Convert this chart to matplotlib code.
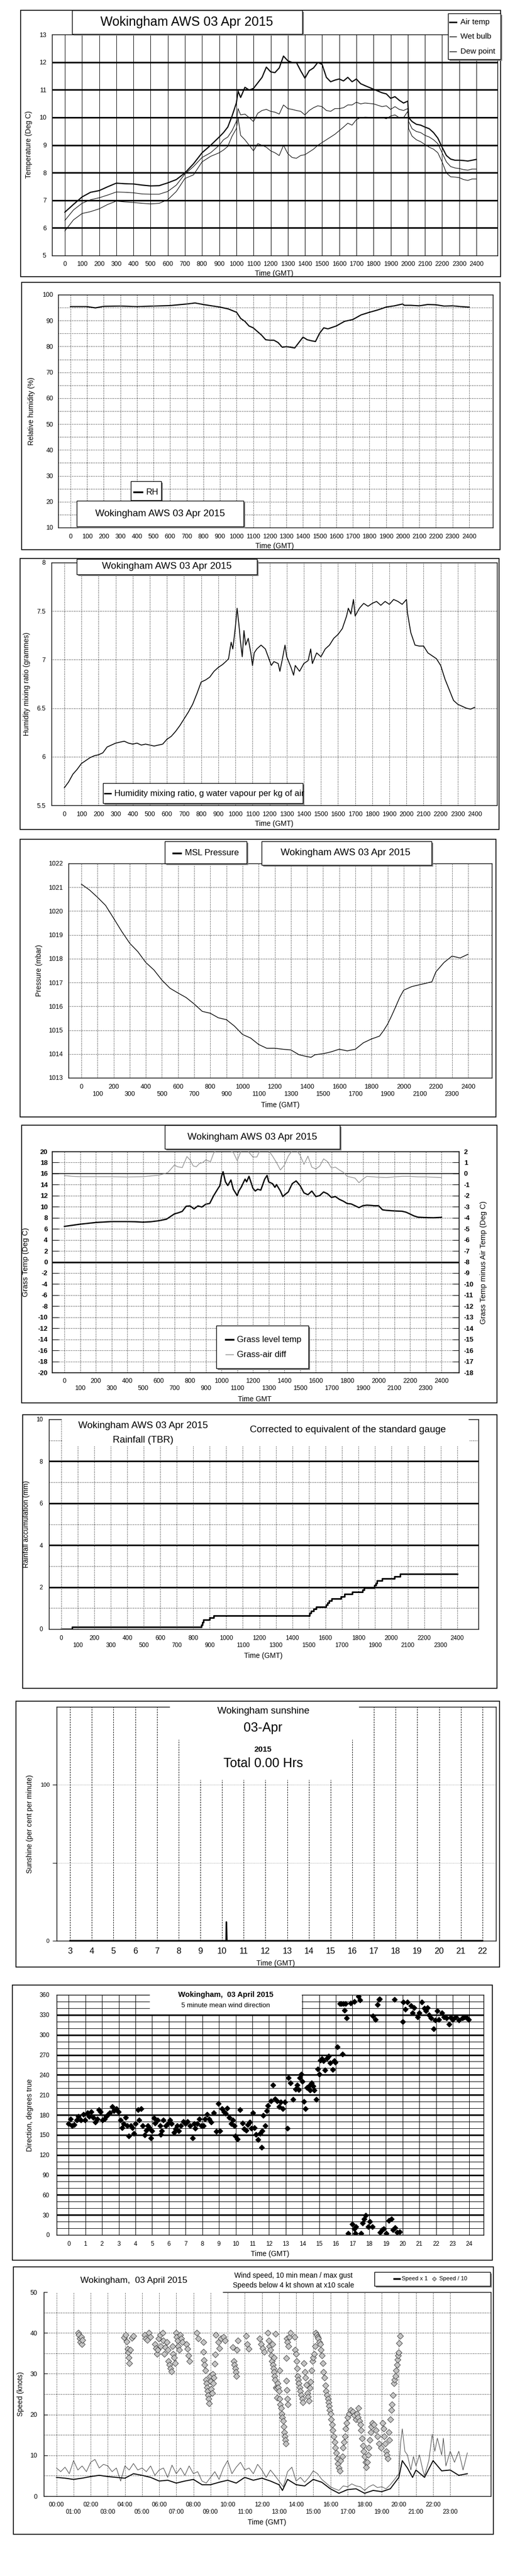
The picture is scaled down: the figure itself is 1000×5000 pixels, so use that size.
import matplotlib
matplotlib.use('Agg')
import matplotlib.pyplot as plt
from matplotlib.patches import Rectangle
from matplotlib.lines import Line2D

plt.rcParams['font.family'] = ['Liberation Sans', 'DejaVu Sans']
plt.rcParams['axes.linewidth'] = 1.0

# ---------------- data ----------------
# temperature panel, time axis in HHMM hundreds
temp_t = [0, 50, 100, 150, 200, 250, 300, 350, 400, 450, 500, 550, 600, 650, 700, 750, 800, 850, 900,
          925, 950, 975, 1000, 1010, 1025, 1050, 1075, 1100, 1125, 1150, 1175, 1200, 1225, 1250, 1275,
          1300, 1325, 1350, 1375, 1400, 1425, 1450, 1475, 1500, 1525, 1550, 1575, 1600, 1625, 1650, 1675,
          1700, 1725, 1750, 1800, 1850, 1875, 1900, 1925, 1950, 1975, 2000, 2005, 2025, 2050, 2075, 2100,
          2125, 2150, 2175, 2200, 2225, 2250, 2275, 2300, 2325, 2350, 2375, 2400]
air_temp = [6.57, 6.85, 7.12, 7.29, 7.35, 7.49, 7.62, 7.60, 7.59, 7.55, 7.52, 7.53, 7.63, 7.75, 7.99, 8.32, 8.72, 8.99, 9.29,
            9.45, 9.65, 10.05, 10.52, 10.95, 10.72, 11.09, 10.99, 11.05, 11.25, 11.45, 11.82, 11.65, 11.62, 11.79, 12.22,
            12.05, 11.99, 11.99, 11.69, 11.42, 11.69, 11.79, 11.99, 11.92, 11.45, 11.29, 11.35, 11.39, 11.32, 11.45, 11.29,
            11.39, 11.22, 11.15, 11.02, 10.89, 10.85, 10.69, 10.75, 10.62, 10.52, 10.59, 9.99, 9.85, 9.75, 9.72, 9.65,
            9.59, 9.45, 9.25, 8.92, 8.62, 8.49, 8.45, 8.45, 8.44, 8.42, 8.45, 8.48]
wet_bulb = [6.27, 6.65, 6.89, 7.02, 7.09, 7.19, 7.30, 7.29, 7.27, 7.23, 7.22, 7.22, 7.32, 7.55, 7.95, 8.22, 8.55, 8.72, 8.99,
            9.19, 9.29, 9.52, 9.85, 10.32, 10.09, 10.12, 9.99, 9.85, 10.15, 10.25, 10.29, 10.22, 10.19, 10.12, 10.45,
            10.32, 10.29, 10.25, 10.22, 10.09, 10.25, 10.35, 10.42, 10.39, 10.25, 10.22, 10.32, 10.32, 10.35, 10.45, 10.45,
            10.55, 10.49, 10.52, 10.49, 10.39, 10.42, 10.29, 10.39, 10.29, 10.25, 10.32, 9.85, 9.59, 9.49, 9.45, 9.35,
            9.29, 9.19, 9.05, 8.72, 8.39, 8.22, 8.17, 8.15, 8.11, 8.09, 8.13, 8.13]
dew_point = [5.89, 6.29, 6.52, 6.59, 6.69, 6.85, 6.97, 6.94, 6.92, 6.89, 6.87, 6.89, 7.02, 7.32, 7.79, 7.92, 8.39, 8.59, 8.72,
             8.82, 8.95, 9.32, 9.59, 9.99, 9.35, 9.19, 8.99, 8.79, 9.05, 8.99, 8.92, 8.79, 8.72, 8.62, 8.99,
             8.69, 8.55, 8.52, 8.62, 8.65, 8.75, 8.85, 8.99, 9.09, 9.19, 9.29, 9.39, 9.52, 9.65, 9.79, 9.72,
             9.92, 9.99, 10.01, 10.00, 9.99, 9.95, 10.05, 10.09, 9.99, 9.99, 10.22, 9.59, 9.32, 9.19, 9.12, 9.02,
             8.92, 8.85, 8.72, 8.39, 7.99, 7.85, 7.84, 7.82, 7.75, 7.72, 7.77, 7.77]

rh_t = [0, 100, 150, 200, 300, 400, 500, 600, 700, 750, 800, 850, 900, 950, 1000, 1025, 1050, 1075, 1100,
        1125, 1150, 1175, 1200, 1225, 1250, 1275, 1300, 1325, 1350, 1375, 1400, 1425, 1450, 1475, 1500,
        1525, 1550, 1600, 1650, 1700, 1750, 1800, 1850, 1900, 1950, 2000, 2010, 2050, 2100, 2150, 2200,
        2250, 2300, 2350, 2400]
rh = [95.4, 95.4, 94.9, 95.5, 95.6, 95.4, 95.6, 95.8, 96.4, 96.8, 96.2, 95.7, 95.2, 94.5, 93.2, 90.8, 89.7, 87.9, 87.2,
      85.8, 84.4, 82.6, 82.4, 82.4, 81.5, 79.7, 79.9, 79.7, 79.4, 81.5, 83.6, 82.6, 82.2, 81.9, 85.1,
      87.2, 86.8, 87.9, 89.7, 90.4, 92.2, 93.2, 94.1, 95.2, 95.7, 96.4, 95.9, 95.9, 95.7, 96.2, 96.1,
      95.6, 95.7, 95.4, 95.2]

mix_t = [0, 25, 50, 75, 100, 125, 150, 175, 200, 225, 250, 275, 300, 325, 350, 375, 400, 425, 450, 475,
         500, 525, 550, 575, 600, 625, 650, 675, 700, 725, 750, 775, 800, 825, 850, 875, 900, 925, 950,
         960, 975, 985, 1000, 1010, 1020, 1030, 1040, 1050, 1060, 1075, 1090, 1100, 1110, 1125, 1150, 1175,
         1200, 1210, 1225, 1250, 1260, 1275, 1290, 1300, 1325, 1340, 1350, 1375, 1400, 1425, 1440, 1450,
         1475, 1500, 1525, 1550, 1575, 1600, 1625, 1650, 1660, 1675, 1690, 1700, 1725, 1750, 1775, 1800,
         1825, 1850, 1875, 1900, 1925, 1950, 1975, 2000, 2005, 2025, 2050, 2075, 2100, 2125, 2150, 2175,
         2200, 2225, 2250, 2275, 2300, 2325, 2350, 2375, 2400]
mix_ratio = [5.68, 5.74, 5.82, 5.87, 5.93, 5.96, 5.99, 6.01, 6.02, 6.04, 6.10, 6.12, 6.14, 6.15, 6.16, 6.14, 6.13, 6.14, 6.12, 6.13,
             6.12, 6.11, 6.12, 6.13, 6.18, 6.21, 6.26, 6.32, 6.39, 6.46, 6.54, 6.65, 6.77, 6.79, 6.82, 6.88, 6.92, 6.95, 6.99,
             7.01, 7.18, 7.11, 7.34, 7.53, 7.37, 7.18, 7.03, 7.30, 7.15, 7.22, 7.07, 6.94, 7.07, 7.11, 7.15, 7.11,
             6.99, 6.94, 6.98, 6.96, 6.88, 7.01, 7.15, 7.03, 6.92, 6.84, 6.94, 6.88, 6.96, 6.99, 7.11, 6.96,
             7.07, 7.03, 7.11, 7.15, 7.22, 7.26, 7.32, 7.45, 7.53, 7.47, 7.62, 7.45, 7.53, 7.58, 7.55, 7.58,
             7.60, 7.56, 7.60, 7.57, 7.62, 7.60, 7.57, 7.62, 7.49, 7.28, 7.15, 7.14, 7.14, 7.07, 7.04, 7.01,
             6.94, 6.80, 6.69, 6.58, 6.54, 6.52, 6.50, 6.49, 6.51]

pres_t = [0, 50, 100, 150, 200, 250, 300, 350, 400, 450, 500, 550, 600, 650, 700, 750, 800, 850, 900, 950,
          1000, 1050, 1100, 1150, 1200, 1250, 1300, 1350, 1400, 1425, 1450, 1500, 1550, 1600, 1650, 1700,
          1750, 1800, 1850, 1875, 1900, 1925, 1950, 1975, 2000, 2050, 2100, 2150, 2175, 2200, 2250, 2300,
          2350, 2375, 2400]
pressure = [1021.13, 1020.89, 1020.58, 1020.24, 1019.70, 1019.15, 1018.65, 1018.30, 1017.84, 1017.53, 1017.10,
            1016.76, 1016.56, 1016.37, 1016.10, 1015.79, 1015.71, 1015.52, 1015.44, 1015.17, 1014.82, 1014.67,
            1014.40, 1014.24, 1014.24, 1014.20, 1014.17, 1013.97, 1013.89, 1013.86, 1013.97, 1014.01, 1014.09,
            1014.20, 1014.13, 1014.20, 1014.47, 1014.63, 1014.75, 1014.98, 1015.25, 1015.60, 1015.98, 1016.37,
            1016.68, 1016.83, 1016.91, 1016.99, 1017.03, 1017.45, 1017.84, 1018.11, 1018.03, 1018.11, 1018.19]

grass_t = [0, 100, 200, 300, 400, 450, 500, 550, 600, 650, 700, 725, 750, 775, 800, 825, 850, 875, 900, 925,
           950, 975, 990, 1000, 1010, 1025, 1040, 1060, 1075, 1100, 1110, 1125, 1150, 1160, 1175, 1200, 1215,
           1230, 1250, 1275, 1290, 1300, 1325, 1340, 1350, 1375, 1390, 1410, 1425, 1450, 1475, 1500, 1525,
           1550, 1575, 1600, 1625, 1650, 1675, 1700, 1725, 1750, 1775, 1800, 1825, 1850, 1875, 1900, 1925,
           1950, 1975, 2000, 2025, 2050, 2100, 2150, 2175, 2200, 2225, 2250, 2300, 2350, 2400]
grass_temp = [6.44, 6.84, 7.15, 7.31, 7.31, 7.28, 7.21, 7.28, 7.46, 7.75, 8.70, 8.90, 9.16, 10.09, 10.15, 9.60, 10.15, 9.94, 10.46, 10.60,
              12.00, 13.17, 13.84, 15.5, 16.34, 14.5, 13.84, 14.84, 13.17, 12.01, 12.84, 13.51, 15.0, 14.5, 15.5, 13.34, 12.84,
              13.17, 13.0, 15.0, 15.67, 14.5, 14.17, 13.51, 14.0, 12.84, 11.84, 12.34, 12.67, 14.17, 14.67, 13.84, 12.51,
              12.17, 12.84, 11.84, 12.01, 12.67, 12.34, 11.68, 11.84, 11.34, 11.01, 10.58, 10.51, 10.18, 9.84, 10.18, 10.28,
              10.24, 10.18, 10.18, 9.44, 9.34, 9.24, 9.18, 9.01, 8.68, 8.34, 8.11, 8.04, 8.01, 8.08]
diff_t = [0, 50, 100, 200, 300, 400, 500, 600, 640, 660, 700, 720, 750, 780, 800, 820, 840, 860, 880, 900,
          930, 950, 975, 1000, 1025, 1050, 1075, 1100, 1125, 1150, 1175, 1200, 1225, 1250, 1275, 1300, 1325,
          1350, 1375, 1400, 1425, 1450, 1475, 1500, 1525, 1550, 1575, 1600, 1625, 1650, 1675, 1700, 1725,
          1750, 1775, 1800, 1825, 1850, 1875, 1900, 1925, 1950, 2000, 2050, 2100, 2150, 2200, 2250, 2300,
          2350, 2400]
grass_air_diff = [-0.18, -0.25, -0.28, -0.28, -0.28, -0.31, -0.28, -0.15, 0.0, 0.12, 0.77, 0.62, 0.54, 1.54, 1.23, 0.69, 0.62, 0.92, 1.0, 1.23,
                  1.08, 1.85, 2.25, 2.75, 2.58, 2.08, 1.92, 1.17, 2.08, 2.58, 1.92, 1.5, 1.5, 2.25, 2.58, 2.08, 1.58,
                  1.0, 0.33, 0.75, 1.58, 2.08, 2.17, 1.67, 0.83, 1.58, 0.58, 0.42, 0.67, 1.33, 1.08, 0.5, 0.58,
                  0.33, 0.12, -0.25, -0.33, -0.41, -0.83, -0.5, -0.25, -0.28, -0.33, -0.36, -0.3, -0.25, -0.25, -0.3, -0.3,
                  -0.33, -0.36]

rain_t = [0, 64, 848, 854, 862, 898, 924, 1504, 1515, 1528, 1545, 1604, 1614, 1624, 1640, 1696, 1716, 1764,
          1826, 1836, 1898, 1906, 1914, 1944, 2018, 2054, 2400]
rain_mm = [0.0, 0.1, 0.2, 0.32, 0.43, 0.53, 0.65, 0.75, 0.85, 0.95, 1.06, 1.16, 1.26, 1.36, 1.46, 1.56, 1.66, 1.76,
           1.86, 1.97, 2.08, 2.19, 2.3, 2.41, 2.5, 2.63, 2.63]

sun_t = [3.0, 10.19, 10.2, 10.21, 10.22, 22.0]
sun_pct = [0, 0, 12, 6, 0, 0]

# 5 minute mean wind direction (hours, degrees)
wd_hour = [0.00, 0.10, 0.20, 0.34, 0.47, 0.59, 0.73, 0.87, 0.99, 1.13, 1.23, 1.34, 1.46, 1.60, 1.72, 1.82, 1.90, 2.02, 2.14, 2.25, 2.37, 2.47, 2.61, 2.71, 2.85, 2.97,
           3.10, 3.20, 3.30, 3.40, 3.50, 3.60, 3.72, 3.80, 3.91, 3.99, 4.15, 4.23, 4.35, 4.43, 4.55, 4.65, 4.73, 4.82, 4.92, 4.98,
           5.10, 5.18, 5.34, 5.48, 5.52, 5.58, 5.67, 5.81, 5.93, 6.07, 6.17, 6.31, 6.41, 6.50, 6.58, 6.72, 6.86, 7.00, 7.12, 7.26,
           7.41, 7.51, 7.59, 7.69, 7.81, 7.95, 8.07, 8.15, 8.30, 8.42, 8.54, 8.70, 8.84, 8.98, 9.05, 9.17, 9.29, 9.41, 9.49, 9.61,
           9.73, 9.83, 9.92, 9.98, 10.12, 10.26, 10.42, 10.52, 10.62, 10.72, 10.85, 10.95, 11.03, 11.11, 11.23, 11.35, 11.45, 11.55, 11.59, 11.66, 11.78,
           11.86, 11.94, 12.10, 12.22, 12.36, 12.49, 12.61, 12.69, 12.81, 12.93, 13.09, 13.15,
           13.29, 13.44, 13.58, 13.68, 13.78, 13.84, 13.92, 14.00, 14.08, 14.18, 14.27, 14.39, 14.47, 14.55, 14.63, 14.71, 14.83, 14.91, 15.01,
           15.07, 15.16, 15.26, 15.36, 15.46, 15.56, 15.66, 15.82, 15.90, 15.97, 16.09, 16.41,
           16.25, 16.35, 16.45, 16.51, 16.59, 16.65, 16.88, 17.10, 17.34, 17.44, 18.23, 18.37, 18.49, 18.58, 18.62, 19.51, 20.01, 20.05, 20.17, 20.30,
           20.50, 20.60, 20.70, 20.90, 21.00, 21.15, 21.29, 21.39, 21.49, 21.59, 21.69, 21.85, 21.95, 22.08, 22.18, 22.34, 22.48, 22.62, 22.78, 22.87,
           23.01, 23.17, 23.37, 23.57, 23.72, 23.86, 23.96,
           16.75, 17.00, 17.10, 17.18, 17.20, 17.50, 17.60, 17.70, 17.80, 17.93, 18.03, 18.19, 18.66, 18.78, 18.88, 19.02, 19.18, 19.32, 19.41, 19.55, 19.67, 19.81]
wd_deg = [167, 174, 164, 165, 172, 178, 172, 181, 172, 183, 178, 185, 176, 169, 174, 188, 185, 172, 174, 178, 181, 183, 192, 186, 189, 185,
          172, 161, 167, 176, 164, 148, 164, 161, 152, 167, 188, 172, 189, 164, 150, 157, 164, 161, 145, 156,
          175, 168, 172, 164, 151, 156, 172, 164, 167, 172, 167, 154, 159, 164, 156, 164, 170, 167, 170, 164,
          145, 167, 160, 167, 174, 164, 164, 174, 181, 174, 169, 183, 155, 197, 156, 189, 185, 182, 190, 176,
          167, 172, 164, 148, 144, 188, 168, 159, 157, 165, 169, 160, 183, 161, 151, 143, 152, 131, 156, 179, 164,
          186, 194, 201, 225, 204, 201, 192, 199, 189, 199, 160, 236,
          228, 203, 219, 225, 218, 236, 241, 230, 200, 189, 221, 223, 217, 228, 223, 217, 203, 249, 241,
          262, 264, 261, 247, 265, 268, 258, 248, 261, 259, 282, 271,
          347, 347, 347, 337, 347, 325, 348, 350, 358, 352, 328, 323, 345, 353, 354, 353, 320, 349, 338, 349,
          344, 333, 341, 327, 333, 349, 340, 336, 341, 330, 325, 309, 322, 336, 323, 333, 327, 325, 316, 326,
          323, 327, 322, 325, 327, 325, 323,
          2, 16, 9, 2, 12, 2, 18, 24, 29, 12, 20, 12, 4, 8, 9, 2, 22, 24, 8, 11, 4, 5]

# wind speed (knots), hours
mean_t = [0, 0.5, 1.0, 1.5, 2.0, 2.5, 3.0, 3.5, 4.0, 4.5, 5.0, 5.5, 6.0, 6.5, 7.0, 7.5, 8.0, 8.5, 9.0, 9.5,
          10.0, 10.5, 11.0, 11.5, 12.0, 12.5, 13.0, 13.2, 13.5, 14.0, 14.5, 15.0, 15.5, 16.0, 16.5, 17.0, 17.5,
          18.0, 18.5, 19.0, 19.5, 20.0, 20.2, 20.5, 20.8, 21.0, 21.5, 22.0, 22.5, 23.0, 23.5, 24.0]
mean_speed = [4.6, 4.4, 4.1, 4.4, 4.8, 5.1, 4.8, 4.6, 4.4, 5.5, 5.1, 4.6, 3.7, 3.9, 3.2, 3.7, 4.1, 2.8, 2.8, 3.4,
              3.9, 3.2, 4.6, 3.9, 4.4, 3.7, 2.8, 1.4, 4.1, 2.8, 2.5, 4.1, 3.4, 1.8, 0.7, 1.6, 1.8,
              0.7, 1.4, 1.1, 1.8, 4.6, 8.7, 6.9, 4.6, 6.4, 4.6, 8.7, 6.2, 6.4, 5.1, 5.5]
gust_t = [0, 0.25, 0.5, 0.75, 1.0, 1.25, 1.5, 1.75, 2.0, 2.25, 2.5, 2.75, 3.0, 3.25, 3.5, 3.75, 4.0, 4.25, 4.5, 4.75,
          5.0, 5.25, 5.5, 5.75, 6.0, 6.25, 6.5, 6.75, 7.0, 7.25, 7.5, 7.75, 8.0, 8.25, 8.5, 8.75, 9.0, 9.25, 9.5, 9.75,
          10.0, 10.25, 10.5, 10.75, 11.0, 11.25, 11.5, 11.75, 12.0, 12.25, 12.5, 12.75, 13.0, 13.25, 13.5, 13.75,
          14.0, 14.25, 14.5, 14.75, 15.0, 15.25, 15.5, 15.75, 16.0, 16.25, 16.5, 16.75, 17.0, 17.25, 17.5, 17.75,
          18.0, 18.25, 18.5, 18.75, 19.0, 19.25, 19.5, 19.75, 20.0,
          20.1, 20.2, 20.35, 20.5, 20.7, 20.85, 21.0, 21.2, 21.4, 21.5, 21.75, 21.95, 22.1, 22.25, 22.5, 22.6,
          22.75, 23.0, 23.25, 23.5, 23.75, 24.0]
gust_speed = [6.9, 6.0, 7.1, 5.5, 8.7, 6.4, 7.4, 6.0, 8.3, 9.0, 6.9, 7.8, 7.4, 6.0, 6.9, 3.7, 7.4, 6.4, 8.0, 6.4,
              6.9, 6.0, 7.4, 5.1, 6.4, 6.9, 4.6, 7.6, 5.5, 6.9, 5.1, 7.4, 5.5, 6.0, 3.7, 3.2, 4.6, 6.0, 4.1, 6.9,
              8.7, 5.5, 7.1, 8.3, 6.4, 6.9, 5.5, 7.8, 6.4, 4.6, 6.4, 5.1, 3.7, 2.3, 6.0, 7.1,
              3.7, 4.6, 3.4, 4.6, 6.2, 5.5, 4.1, 3.2, 2.3, 1.8, 1.4, 2.5, 2.3, 3.0, 2.5, 2.3,
              1.4, 2.3, 2.8, 2.1, 2.3, 1.8, 2.8, 4.1, 5.5,
              12.9, 16.5, 11.0, 10.1, 6.4, 9.7, 7.4, 10.1, 6.4, 5.0, 8.7, 15.2, 11.0, 14.2, 10.1, 14.2,
              7.4, 11.0, 8.3, 11.0, 6.4, 10.6]
# diamonds: light-wind speeds shown at x10 scale (hour, value)
speed_x10 = [(1.27, 40.0), (1.32, 39.5), (1.36, 38.6), (1.40, 37.7), (1.45, 39.0), (1.50, 37.2), (1.53, 38.2),
             (3.96, 38.9), (4.05, 39.5), (4.10, 37.9), (4.15, 36.1), (4.20, 35.2), (4.22, 34.0), (4.25, 32.6), (4.30, 35.8), (4.40, 38.8), (4.50, 39.3),
             (5.15, 39.5), (5.22, 38.6), (5.30, 38.2), (5.40, 40.0), (5.48, 39.0),
             (5.77, 37.2), (5.82, 36.3), (5.87, 34.9), (5.92, 35.8), (5.97, 38.6), (6.05, 39.5), (6.10, 36.8), (6.20, 40.0), (6.25, 38.1), (6.30, 34.9), (6.35, 36.5),
             (6.45, 37.7), (6.50, 35.8), (6.55, 33.1), (6.60, 32.2), (6.65, 31.3), (6.72, 30.6), (6.78, 36.8), (6.82, 34.9), (6.87, 34.0), (6.93, 32.6),
             (6.98, 40.0), (7.03, 39.0), (7.08, 38.1), (7.12, 36.8), (7.18, 35.8), (7.22, 39.5), (7.28, 38.6), (7.35, 37.7),
             (7.60, 37.2), (7.65, 36.1), (7.72, 34.5), (7.78, 33.1), (8.20, 40.0), (8.28, 38.6),
             (8.57, 37.7), (8.60, 35.4), (8.63, 33.3), (8.66, 32.2), (8.70, 30.8), (8.73, 28.5), (8.76, 27.6), (8.80, 26.7), (8.83, 25.7), (8.86, 24.8),
             (8.90, 23.9), (8.93, 22.7), (8.97, 29.4), (9.00, 28.1), (9.05, 26.2), (9.10, 25.3), (9.13, 29.9), (9.17, 27.6), (9.20, 29.0), (9.25, 32.4), (9.28, 34.7),
             (9.32, 39.5), (9.45, 37.7), (9.52, 36.3), (9.60, 38.6), (9.75, 39.0), (9.85, 38.1),
             (10.30, 36.5), (10.35, 33.1), (10.40, 32.2), (10.45, 31.3), (10.48, 30.4), (10.50, 29.4), (10.55, 35.8), (10.60, 38.1),
             (11.08, 39.3), (11.15, 37.2), (11.22, 36.1), (11.85, 38.6), (11.95, 37.2), (12.05, 36.3), (12.14, 35.4),
             (12.34, 40.0), (12.40, 38.1), (12.45, 36.8), (12.50, 35.8), (12.55, 34.5), (12.60, 33.1), (12.65, 32.2), (12.68, 31.3), (12.72, 30.4),
             (12.75, 29.4), (12.78, 28.5), (12.82, 26.7), (12.85, 26.4), (12.88, 24.1), (12.62, 37.2), (12.70, 34.0), (12.80, 39.8),
             (12.92, 27.6), (12.96, 26.7), (13.00, 25.7), (13.04, 23.9), (13.08, 22.5), (13.12, 21.6), (13.16, 20.2), (13.20, 19.3), (13.24, 18.4),
             (13.27, 17.0), (13.30, 15.6), (13.33, 14.7), (13.36, 13.8), (13.40, 12.9), (13.05, 30.8),
             (13.45, 38.6), (13.50, 37.7), (13.55, 36.8), (13.60, 39.0), (13.66, 40.0), (13.42, 33.8), (13.44, 28.3), (13.47, 26.0), (13.50, 23.9), (13.52, 22.5),
             (13.90, 39.0), (13.95, 35.8), (14.00, 34.9), (14.02, 33.1), (14.05, 31.3), (14.08, 29.4), (14.12, 28.5), (14.15, 27.6), (14.20, 26.7), (14.25, 25.7),
             (14.30, 24.8), (14.35, 23.9), (14.40, 23.0), (14.45, 32.6), (14.50, 30.4), (14.55, 29.0), (14.60, 27.3), (14.65, 25.3), (14.70, 24.4), (14.75, 23.4),
             (14.80, 26.5), (14.85, 28.0),
             (14.90, 30.8), (14.95, 33.1), (15.00, 34.0), (15.05, 34.9), (15.10, 36.8), (15.15, 40.0), (15.20, 39.5), (15.25, 39.0), (15.30, 38.6), (15.35, 37.7),
             (15.40, 37.2), (15.45, 35.8), (15.50, 34.5), (15.55, 32.6), (15.60, 30.4), (15.65, 29.0), (15.70, 27.1), (15.75, 25.7), (15.80, 24.8), (15.85, 23.9),
             (15.88, 23.0), (15.92, 22.1), (15.96, 21.1), (16.00, 20.2),
             (16.05, 18.8), (16.10, 17.5), (16.15, 16.1), (16.20, 14.7), (16.25, 13.3), (16.30, 11.9), (16.35, 10.6), (16.40, 9.2), (16.45, 8.0), (16.50, 6.9),
             (16.55, 6.2), (16.60, 8.7),
             (16.70, 9.7), (16.75, 11.9), (16.80, 13.3), (16.85, 14.7), (16.90, 16.5), (16.95, 17.9), (17.00, 19.3), (17.10, 20.2), (17.20, 21.1), (17.30, 20.7),
             (17.40, 19.8), (17.50, 18.8),
             (17.55, 20.2), (17.60, 19.3), (17.65, 21.6), (17.70, 18.4), (17.75, 17.5), (17.80, 16.1), (17.85, 14.2), (17.90, 12.4), (17.95, 11.0), (18.00, 9.7),
             (18.05, 8.3), (18.10, 7.1),
             (18.15, 8.3), (18.20, 10.1), (18.25, 11.9), (18.30, 13.8), (18.35, 15.6), (18.40, 17.0), (18.45, 17.9), (18.55, 17.5), (18.65, 16.1), (18.75, 14.7),
             (18.85, 12.9), (18.95, 11.9),
             (19.05, 17.9), (19.10, 16.5), (19.15, 14.7), (19.20, 12.9), (19.25, 11.0), (19.30, 10.1), (19.35, 9.2), (19.40, 15.6), (19.45, 13.8),
             (19.50, 18.8), (19.55, 21.1), (19.60, 22.5), (19.65, 24.8), (19.70, 27.6), (19.75, 28.5), (19.80, 29.4), (19.85, 30.8), (19.90, 32.2),
             (19.93, 33.5), (19.96, 34.5), (20.00, 35.2), (20.03, 37.5), (20.07, 39.3)]

TITLE = 'Wokingham AWS 03 Apr 2015'

# ---------------- layout helpers (pixel coordinates, origin top-left) ----------------
W, H = 1000, 5000
fig = plt.figure(figsize=(10, 50), dpi=100)


def fx(x):
    return x / W


def fy(y):
    return 1 - y / H


def panel_axes(l, t, r, b, xlim, ylim):
    ax = fig.add_axes([fx(l), fy(b), (r - l) / W, (b - t) / H])
    ax.set_xlim(*xlim)
    ax.set_ylim(*ylim)
    return ax


def frame(l, t, r, b):
    fig.add_artist(Rectangle((fx(l), fy(b)), (r - l) / W, (b - t) / H, transform=fig.transFigure,
                             fill=False, ec='black', lw=1.2, zorder=5))


def box(l, t, r, b, shadow=True):
    if shadow:
        fig.add_artist(Rectangle((fx(l + 3), fy(b + 3)), (r - l) / W, (b - t) / H, transform=fig.transFigure,
                                 fc='#808080', ec='none', zorder=6))
    fig.add_artist(Rectangle((fx(l), fy(b)), (r - l) / W, (b - t) / H, transform=fig.transFigure,
                             fc='white', ec='black', lw=1.0, zorder=7))


def label(x, y, s, size=10, ha='center', **kw):
    fig.text(fx(x), fy(y), s, ha=ha, va='center', fontsize=size, zorder=8, **kw)


def sample(x0, x1, y, **kw):
    fig.add_artist(Line2D([fx(x0), fx(x1)], [fy(y), fy(y)], transform=fig.transFigure, zorder=8, **kw))


def dotted(ax, ys=(), xs=(), color='black', lw=0.8):
    for y in ys:
        ax.axhline(y, color=color, lw=lw, ls=(0, (1, 2)), zorder=1)
    for x in xs:
        ax.axvline(x, color=color, lw=lw, ls=(0, (1, 2)), zorder=1)


def two_row(vals, fmt=str):
    return [fmt(v) if i % 2 == 0 else '\n' + fmt(v) for i, v in enumerate(vals)]


hundreds = list(range(0, 2401, 100))

# ---------------- 1: temperatures ----------------
ax1 = panel_axes(101, 67, 966, 496, (-75, 2523), (5, 13))
for y in range(6, 13):
    ax1.axhline(y, color='black', lw=2.2, zorder=1)
for x in hundreds:
    ax1.axvline(x, color='black', lw=0.7, zorder=1)
ax1.plot(temp_t, air_temp, color='black', lw=1.6, zorder=3)
ax1.plot(temp_t, wet_bulb, color='black', lw=0.8, zorder=3)
ax1.plot(temp_t, dew_point, color='black', lw=0.8, zorder=3)
ax1.set_xticks(hundreds)
ax1.set_yticks(range(5, 14))
ax1.tick_params(length=0, labelsize=9, pad=8)
frame(40, 20, 972, 537)
box(140, 20, 587, 66)
label(363, 43, TITLE, 18)
box(870, 26, 972, 115)
sample(873, 886, 43, color='black', lw=2)
sample(873, 886, 71, color='black', lw=1)
sample(873, 886, 100, color='black', lw=1)
label(894, 43, 'Air temp', 11, ha='left')
label(894, 71, 'Wet bulb', 11, ha='left')
label(894, 100, 'Dew point', 11, ha='left')
label(56, 281, 'Temperature (Deg C)', 10, rotation=90)
label(532, 531, 'Time (GMT)', 10)

# ---------------- 2: relative humidity ----------------
ax2 = panel_axes(113, 572, 957, 1024, (-74, 2543), (10, 100))
dotted(ax2, ys=range(15, 100, 5), xs=hundreds)
ax2.plot(rh_t, rh, color='black', lw=1.6, zorder=3)
ax2.set_xticks(hundreds)
ax2.set_yticks(range(10, 101, 10))
ax2.tick_params(length=0, labelsize=9)
ax2.tick_params(axis='x', pad=8.5)
ax2.tick_params(axis='y', pad=7)
frame(42, 548, 971, 1067)
box(254, 934, 313, 971)
sample(260, 276, 955, color='black', lw=2.5)
label(284, 955, 'RH', 12, ha='left')
box(149, 972, 473, 1022)
label(311, 997, TITLE, 13.5)
label(61, 798, 'Relative humidity (%)', 10, rotation=90)
label(533, 1060, 'Time (GMT)', 10)

# ---------------- 3: mixing ratio ----------------
ax3 = panel_axes(100, 1092, 965, 1563, (-75, 2529), (5.5, 8))
dotted(ax3, ys=[6, 6.5, 7, 7.5], xs=hundreds)
ax3.plot(mix_t, mix_ratio, color='black', lw=1.2, zorder=3)
ax3.set_xticks(hundreds)
ax3.set_yticks([5.5, 6, 6.5, 7, 7.5, 8], labels=['5.5', '6', '6.5', '7', '7.5', '8'])
ax3.tick_params(length=0, labelsize=9, pad=8.5)
frame(39, 1084, 969, 1610)
box(149, 1085, 499, 1115)
label(324, 1100, TITLE, 13.5)
box(200, 1520, 588, 1559)
sample(203, 215, 1540, color='black', lw=2)
label(222, 1540, 'Humidity mixing ratio, g water vapour per kg of air', 12, ha='left')
label(52, 1327, 'Humidity mixing ratio (grammes)', 10, rotation=90)
label(532, 1599, 'Time (GMT)', 10)

# ---------------- 4: pressure ----------------
ax4 = panel_axes(133, 1676, 955, 2092, (-80, 2547), (1013, 1022))
dotted(ax4, ys=range(1014, 1022), xs=hundreds)
ax4.plot(pres_t, pressure, color='black', lw=1.0, zorder=3)
ax4.set_xticks(hundreds, labels=two_row(hundreds))
ax4.set_yticks(range(1013, 1023))
ax4.tick_params(length=0, labelsize=9)
ax4.tick_params(axis='x', pad=8.5)
ax4.tick_params(axis='y', pad=8)
frame(39, 1629, 963, 2168)
box(320, 1633, 479, 1676)
sample(336, 351, 1656, color='black', lw=2.5)
label(359, 1656, 'MSL Pressure', 12, ha='left')
box(508, 1633, 838, 1679)
label(671, 1655, TITLE, 13.5)
label(76, 1884, 'Pressure (mbar)', 10, rotation=90)
label(544, 2145, 'Time (GMT)', 10)

# ---------------- 5: grass temperature ----------------
ax5 = panel_axes(101, 2235, 891, 2664, (-79, 2511), (-20, 20))
dotted(ax5, ys=[y for y in range(-18, 19, 2) if y not in (0, 16)], xs=hundreds)
ax5.axhline(0, color='black', lw=2.2, zorder=1)
ax5.axhline(16, color='black', lw=1.1, zorder=1)
ax5.plot(grass_t, grass_temp, color='black', lw=1.8, zorder=3)
ax5.set_xticks(hundreds, labels=two_row(hundreds))
ax5.set_yticks(range(-20, 21, 2), labels=[str(v) for v in range(-20, 21, 2)], fontweight='bold')
ax5.tick_params(axis='x', length=0, labelsize=9, pad=8)
ax5.tick_params(axis='y', direction='in', length=9, labelsize=9.5, pad=6)
ax5b = ax5.twinx()
ax5b.set_ylim(-18, 2)
ax5b.plot(diff_t, grass_air_diff, color='#8a8a8a', lw=0.9, zorder=3)
ax5b.set_yticks(range(-18, 3), labels=[str(v) for v in range(-18, 3)], fontweight='bold')
ax5b.tick_params(axis='y', direction='in', length=9, labelsize=9.5, pad=7)
frame(42, 2184, 965, 2723)
box(320, 2184, 660, 2230)
label(490, 2207, TITLE, 13.5)
box(420, 2573, 599, 2656)
sample(438, 453, 2600, color='black', lw=2.5)
label(460, 2600, 'Grass level temp', 12, ha='left')
sample(438, 453, 2629, color='#8a8a8a', lw=1)
label(460, 2629, 'Grass-air diff', 12, ha='left')
label(50, 2450, 'Grass Temp (Deg C)', 10.5, rotation=90)
label(939, 2450, 'Grass Temp minus Air Temp (Deg C)', 10.5, rotation=90)
label(495, 2716, 'Time GMT', 10)

# ---------------- 6: rainfall ----------------
ax6 = panel_axes(95, 2755, 929, 3162, (-75, 2528), (0, 10))
dotted(ax6, ys=[1, 3, 5, 7, 9], xs=hundreds)
for y in (2, 4, 6, 8):
    ax6.axhline(y, color='black', lw=2.2, zorder=1)
ax6.plot(rain_t, rain_mm, color='black', lw=2.2, drawstyle='steps-post', zorder=3)
ax6.add_patch(Rectangle((3, 8.75), 2466, 1.4, fc='white', ec='none', zorder=3, clip_on=False))
ax6.set_xticks(hundreds, labels=two_row(hundreds))
ax6.set_yticks(range(0, 11, 2))
ax6.tick_params(length=0, labelsize=8.5, pad=8.5)
frame(44, 2746, 965, 3277)
label(278, 2768, TITLE, 13.5)
label(278, 2795, 'Rainfall (TBR)', 13.5)
label(675, 2776, 'Corrected to equivalent of the standard gauge', 13.5)
label(51, 2958, 'Rainfall accumulation (mm)', 10, rotation=90)
label(511, 3214, 'Time (GMT)', 10)

# ---------------- 7: sunshine ----------------
ax7 = panel_axes(110, 3313, 963, 3767, (2.38, 22.62), (0, 150))
for y in (50, 100):
    ax7.axhline(y, color='#a0a0a0', lw=0.8, ls=(0, (1, 1.5)), zorder=1)
for h in range(3, 23):
    ax7.axvline(h, color='black', lw=0.7, ls=(0, (3, 2)), zorder=1)
ax7.add_patch(Rectangle((7.6, 129), 8.71, 23, fc='white', ec='none', zorder=3, clip_on=False))
ax7.add_patch(Rectangle((8.05, 103), 7.9, 27, fc='white', ec='none', zorder=3))
ax7.plot(sun_t, sun_pct, color='black', lw=2.2, zorder=4, clip_on=False)
ax7.set_xticks(range(3, 23))
ax7.set_yticks([0, 50, 100], labels=['0', '', '100'])
ax7.tick_params(axis='x', length=0, labelsize=12, pad=9)
ax7.tick_params(axis='y', direction='out', length=5.5, labelsize=8, pad=4.5)
frame(31, 3302, 970, 3818)
label(511, 3322, 'Wokingham sunshine', 13.5)
label(511, 3354, '03-Apr', 18)
label(511, 3396, '2015', 11, fontweight='bold')
label(511, 3423, 'Total 0.00 Hrs', 18)
label(58, 3540, 'Sunshine (per cent per minute)', 10, rotation=90)
label(535, 3811, 'Time (GMT)', 10)

# ---------------- 8: wind direction ----------------
ax8 = panel_axes(110, 3872, 939, 4338, (-0.72, 24.85), (0, 360))
for y in range(10, 360, 10):
    ax8.axhline(y, color='black', lw=2.2 if y % 30 == 0 else 0.7, zorder=1)
for h in range(0, 25):
    ax8.axvline(h, color='black', lw=0.7, zorder=1)
ax8.add_patch(Rectangle((4.87, 331), 9.09, 31, fc='white', ec='none', zorder=3, clip_on=False))
ax8.plot(wd_hour, wd_deg, ls='none', marker='D', ms=5.5, color='black', zorder=4)
ax8.set_xticks(range(0, 25))
ax8.set_yticks(range(0, 361, 30))
ax8.tick_params(length=0, labelsize=8.5)
ax8.tick_params(axis='x', pad=8.5)
ax8.tick_params(axis='y', pad=10)
frame(24, 3853, 956, 4387)
label(438, 3872, 'Wokingham,  03 April 2015', 10.5, fontweight='bold')
label(438, 3893, '5 minute mean wind direction', 9.5)
label(58, 4105, 'Direction, degrees true', 10, rotation=90)
label(524, 4375, 'Time (GMT)', 10)

# ---------------- 9: wind speed ----------------
ax9 = panel_axes(85, 4449, 953, 4845, (-0.74, 25.37), (0, 50))
dotted(ax9, ys=range(5, 50, 5), xs=range(0, 24))
ax9.plot(gust_t, gust_speed, color='#505050', lw=0.8, zorder=3)
ax9.plot(mean_t, mean_speed, color='black', lw=1.4, zorder=3)
ax9.plot([p[0] for p in speed_x10], [p[1] for p in speed_x10], ls='none', marker='D', ms=6,
         mfc='#c4c4c4', mec='#303030', mew=0.6, zorder=4)
ax9.spines['top'].set_bounds(9.74, 25.37)
ax9.set_xticks(range(0, 24), labels=two_row(range(0, 24), lambda h: '%02d:00' % h))
ax9.set_yticks(range(0, 51, 10))
ax9.tick_params(axis='x', length=0, labelsize=8.5, pad=8)
ax9.tick_params(axis='y', direction='in', length=5, labelsize=9, pad=9)
frame(26, 4400, 958, 4919)
label(260, 4426, 'Wokingham,  03 April 2015', 12.5)
label(570, 4417, 'Wind speed, 10 min mean / max gust', 10)
label(570, 4436, 'Speeds below 4 kt shown at x10 scale', 10)
box(727, 4410, 952, 4437)
sample(765, 776, 4423, color='black', lw=2.5)
label(780, 4423, 'Speed x 1', 8, ha='left')
fig.add_artist(Line2D([fx(843)], [fy(4423)], transform=fig.transFigure, ls='none', marker='D', ms=4,
                      mfc='#c4c4c4', mec='#303030', mew=0.6, zorder=8))
label(853, 4423, 'Speed / 10', 8, ha='left')
label(40, 4647, 'Speed (knots)', 10, rotation=90)
label(518, 4896, 'Time (GMT)', 10)

fig.savefig('out.png', dpi=100, facecolor='white')
